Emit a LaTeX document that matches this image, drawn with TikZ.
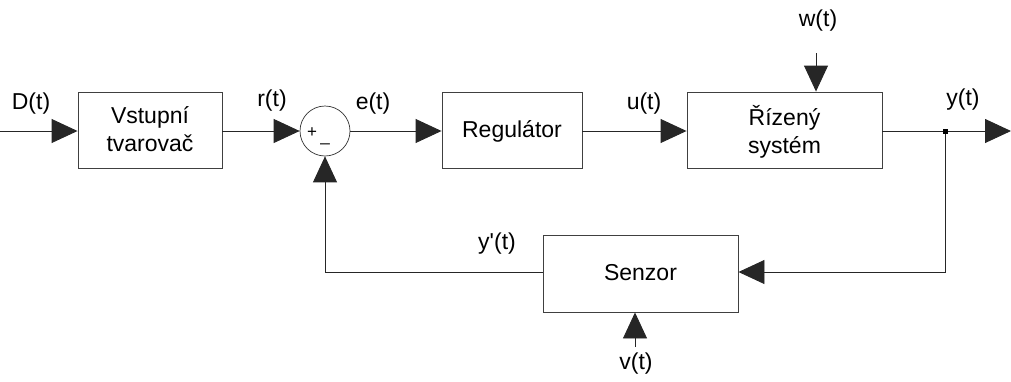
\documentclass[tikz,border=0pt]{standalone}
\usepackage{fontspec}
\setmainfont{Liberation Sans}
\usetikzlibrary{arrows.meta}
\begin{document}
\begin{tikzpicture}[x=1pt,y=-1pt,
  every node/.style={font=\fontsize{23}{28}\selectfont, inner sep=0pt},
  blk/.style={draw=black!75, line width=0.9pt, align=center, text depth=2pt},
  arr/.style={-{Triangle[length=26pt,width=24pt]}},
  ln/.style={line width=0.9pt, draw=black!85},
  lbl/.style={anchor=center}]
\useasboundingbox (0,0) rectangle (1011,381);
% blocks
\node[blk, minimum width=144pt, minimum height=76pt] (vst) at (150,130) {Vstupní\\tvarovač};
\node[draw=black!80, line width=0.7pt, circle, minimum size=50pt] (sum) at (325,131) {};
\node[font=\fontsize{17}{17}\selectfont] (plus) at (312,133) {+};
\node[font=\fontsize{17}{17}\selectfont] (minus) at (325,143) {\_};
\node[blk, minimum width=140pt, minimum height=76pt] (reg) at (512,130) {Regulátor};
\node[blk, minimum width=195pt, minimum height=76pt] (sys) at (784.5,130) {Řízený\\systém};
\node[blk, minimum width=195pt, minimum height=77pt] (sen) at (640.5,273.5) {Senzor};
% coordinates
\coordinate (din) at (0,131);
\coordinate (yout) at (1011,131);
\coordinate (j) at (945,131);
\coordinate (wtop) at (816,53);
\coordinate (vbot) at (635,347);
\coordinate (fbl) at (325,272);
% connectors
\draw[ln, arr] (din) -- (vst.west |- din);
\draw[ln, arr] (vst.east |- sum.west) -- (sum.west);
\draw[ln, arr] (sum.east) -- (reg.west |- sum.east);
\draw[ln, arr] (reg.east |- sum.east) -- (sys.west |- sum.east);
\draw[ln, arr] (sys.east |- yout) -- (yout);
\draw[ln, arr] (wtop) -- (wtop |- sys.north);
\draw[ln, arr] (j) |- (sen.east |- fbl);
\draw[ln, arr] (sen.west |- fbl) -- (fbl) -- (sum.south);
\draw[ln, arr] (vbot) -- (vbot |- sen.south);
\fill (j) ++(-2.5,-2.5) rectangle ++(5,5);
% labels
\node[lbl] (ld) at (31,104) {D(t)};
\node[lbl] (lr) at (272,101) {r(t)};
\node[lbl] (le) at (373,104) {e(t)};
\node[lbl] (lu) at (644,104) {u(t)};
\node[lbl] (ly) at (963,100) {y(t)};
\node[lbl] (lw) at (818,21) {w(t)};
\node[lbl] (lyp) at (497,244) {y\textquotesingle(t)};
\node[lbl] (lv) at (636,364) {v(t)};
\end{tikzpicture}
\end{document}
